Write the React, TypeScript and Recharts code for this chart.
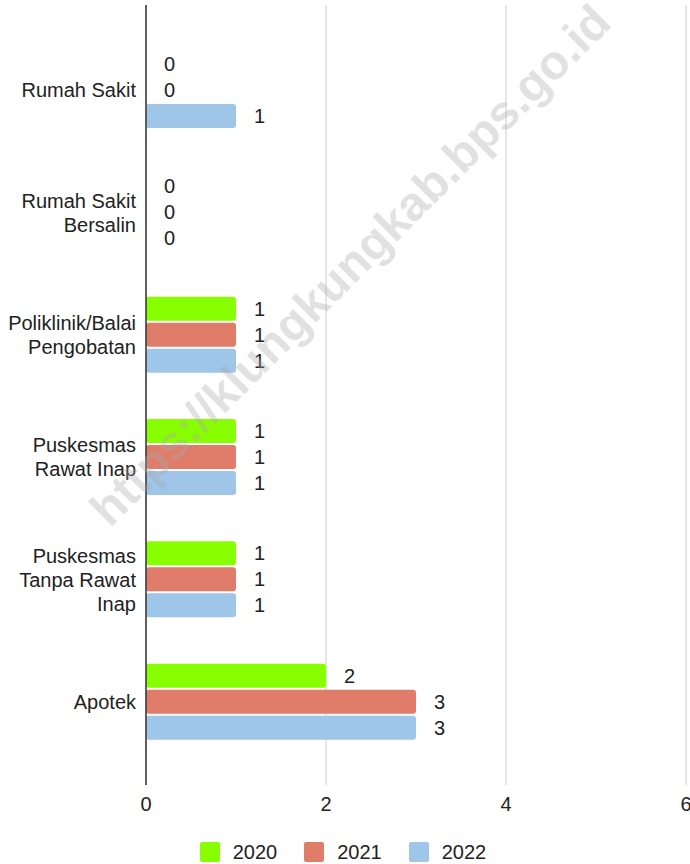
import React from "react";
import {
  BarChart,
  Bar,
  XAxis,
  YAxis,
  CartesianGrid,
  Legend,
  LabelList,
} from "recharts";

const categories = [
  "Rumah Sakit",
  "Rumah Sakit Bersalin",
  "Poliklinik/Balai Pengobatan",
  "Puskesmas Rawat Inap",
  "Puskesmas Tanpa Rawat Inap",
  "Apotek",
];

// how each category label wraps on the axis
const categoryLines = [
  ["Rumah Sakit"],
  ["Rumah Sakit", "Bersalin"],
  ["Poliklinik/Balai", "Pengobatan"],
  ["Puskesmas", "Rawat Inap"],
  ["Puskesmas", "Tanpa Rawat", "Inap"],
  ["Apotek"],
];

const values2020 = [0, 0, 1, 1, 1, 2];
const values2021 = [0, 0, 1, 1, 1, 3];
const values2022 = [1, 0, 1, 1, 1, 3];

const xTicks = [0, 2, 4, 6];

const series = [
  { key: "2020", color: "#88ff00" },
  { key: "2021", color: "#df7c6a" },
  { key: "2022", color: "#9fc5e8" },
];

const data = categories.map((name, i) => ({
  name,
  "2020": values2020[i],
  "2021": values2021[i],
  "2022": values2022[i],
}));

const FONT = "'Liberation Sans', Arial, sans-serif";

const CategoryTick = (props: any) => {
  const { x, y, payload } = props;
  const idx = categories.indexOf(payload.value);
  const lines = categoryLines[idx] || [payload.value];
  const lh = 24;
  const start = y - ((lines.length - 1) * lh) / 2;
  return (
    <text
      x={x}
      y={start}
      textAnchor="end"
      fill="#222"
      fontSize={20}
      fontFamily={FONT}
    >
      {lines.map((l, i) => (
        <tspan key={i} x={x} y={start + i * lh} dy="0.35em">
          {l}
        </tspan>
      ))}
    </text>
  );
};

const LegendContent = () => (
  <div
    style={{
      height: 44,
      paddingTop: 22,
      boxSizing: "border-box",
      display: "flex",
      justifyContent: "center",
      alignItems: "flex-start",
      fontFamily: FONT,
      fontSize: 20,
      color: "#222",
    }}
  >
    {series.map((s, i) => (
      <div
        key={s.key}
        style={{
          display: "flex",
          alignItems: "center",
          marginRight: i < series.length - 1 ? 27 : 0,
          height: 20,
        }}
      >
        <span
          style={{
            width: 20,
            height: 20,
            background: s.color,
            borderRadius: 2,
            marginRight: 13,
            display: "inline-block",
          }}
        />
        <span>{s.key}</span>
      </div>
    ))}
  </div>
);

export default function App() {
  return (
    <div style={{ position: "absolute", left: 0, top: 0, width: 690, height: 864 }}>
      <BarChart
        width={690}
        height={864}
        data={data}
        layout="vertical"
        margin={{ top: 5, right: 4, left: 0, bottom: 0 }}
        barCategoryGap="19%"
        barGap={2}
      >
        <CartesianGrid horizontal={false} stroke="#cccccc" />
        <XAxis
          type="number"
          domain={[0, 6]}
          ticks={xTicks}
          interval={0}
          axisLine={false}
          tickLine={false}
          tickSize={0}
          tickMargin={12}
          height={35}
          tick={{ fill: "#222", fontSize: 20, fontFamily: FONT }}
        />
        <YAxis
          type="category"
          dataKey="name"
          width={146}
          axisLine={{ stroke: "#333", strokeWidth: 1.5 }}
          tickLine={false}
          tickSize={0}
          tickMargin={10}
          padding={{ top: 24, bottom: 22 }}
          tick={<CategoryTick />}
        />
        <Legend verticalAlign="bottom" content={<LegendContent />} />
        {series.map((s) => (
          <Bar
            key={s.key}
            dataKey={s.key}
            fill={s.color}
            barSize={24}
            radius={3}
            minPointSize={0.01}
            isAnimationActive={false}
          >
            <LabelList
              dataKey={s.key}
              position="right"
              offset={18}
              fill="#222"
              fontSize={20}
              fontFamily={FONT}
            />
          </Bar>
        ))}
      </BarChart>
      <div
        style={{
          position: "absolute",
          left: 350,
          top: 265,
          transform: "translate(-50%, -50%) rotate(-45deg)",
          whiteSpace: "nowrap",
          fontFamily: "Arial, 'Liberation Sans', sans-serif",
          fontWeight: "bold",
          fontSize: 48,
          color: "rgba(170,170,170,0.35)",
          pointerEvents: "none",
        }}
      >
        https://klungkungkab.bps.go.id
      </div>
    </div>
  );
}
